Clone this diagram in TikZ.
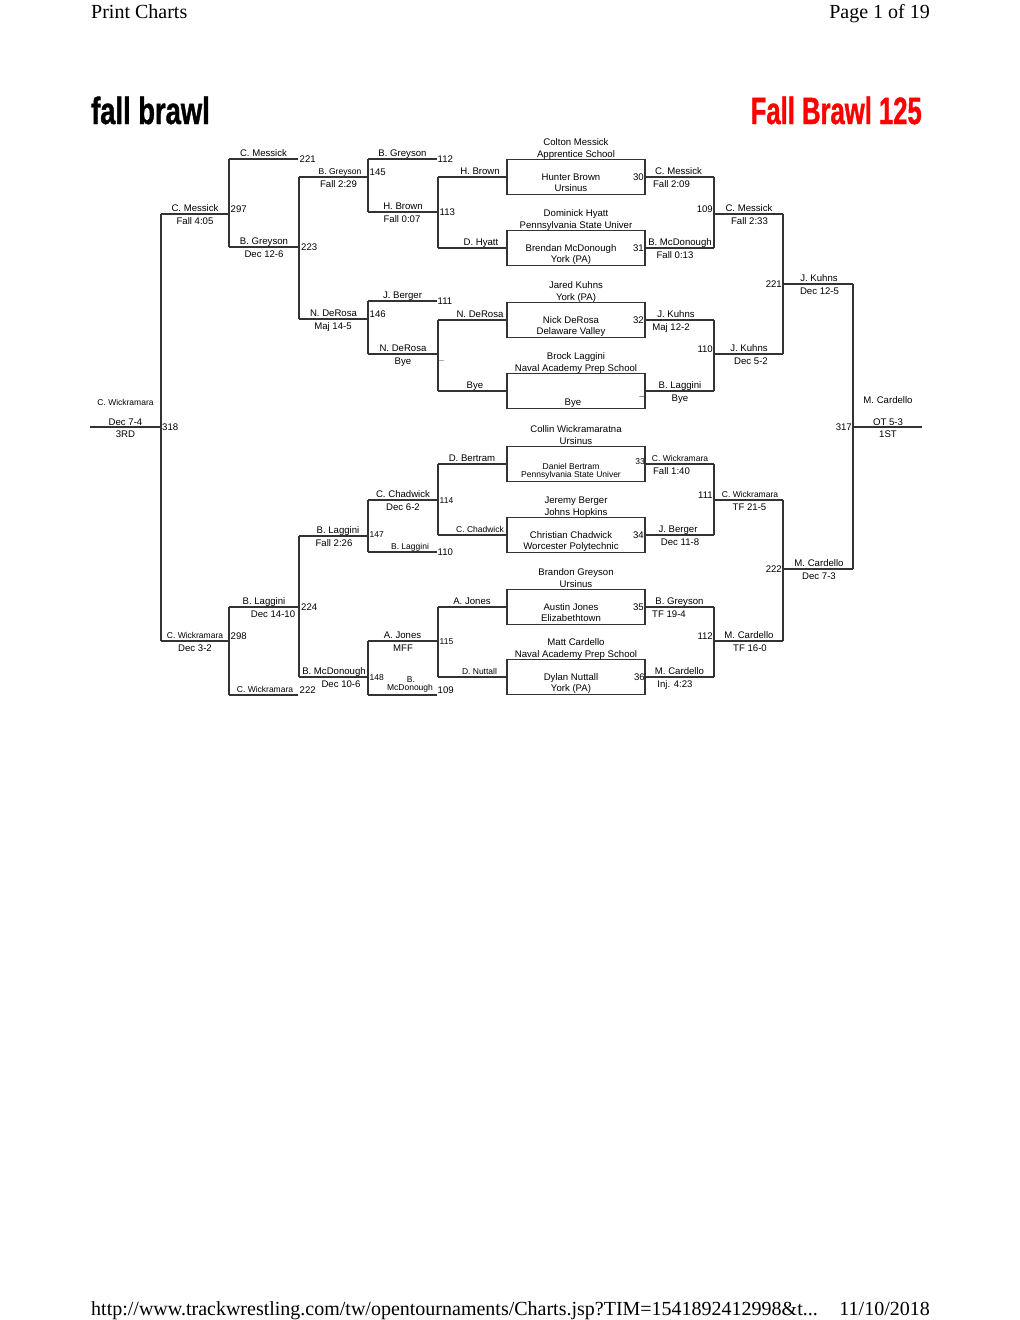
\documentclass[tikz,border=0pt]{standalone}
\usepackage{fontspec}
\setmainfont{Liberation Sans}
\newfontfamily\pagefont{Liberation Serif}
\newfontfamily\brawlfont[FakeStretch=0.72,FakeBold=1]{Liberation Sans}
\newfontfamily\brawlnarrow[FakeStretch=0.675,FakeBold=1]{Liberation Sans}
\usetikzlibrary{positioning}

\begin{document}
\begin{tikzpicture}[
    x=1pt, y=-1pt,
    wname/.style={font=\fontsize{9.6}{11}\selectfont, anchor=base, inner sep=0pt},
    wsmall/.style={wname, font=\fontsize{8.5}{10}\selectfont},
    bout/.style={wname, anchor=base west},
    boutl/.style={wname, anchor=base east},
    seedbox/.style={draw=black!80, line width=1.1pt, minimum width=138pt, minimum height=35pt, inner sep=0pt},
    bline/.style={draw=black!80, line width=1.1pt},
    pagetext/.style={font=\pagefont\fontsize{20}{22}\selectfont, inner sep=0pt},
    brawltitle/.style={font=\brawlfont\bfseries\fontsize{38}{40}\selectfont, inner sep=0pt}
]
\useasboundingbox (0,0) rectangle (1020,1320);

% page header and footer
\node[pagetext, anchor=base west] (hdl) at (91,18.5) {Print Charts};
\node[pagetext, anchor=base east] (hdr) at (930,18.5) {Page 1 of 19};
\node[pagetext, anchor=base west] (ftl) at (91,1315.5) {http://www.trackwrestling.com/tw/opentournaments/Charts.jsp?TIM=1541892412998\&t...};
\node[pagetext, anchor=base east] (ftr) at (930,1315.5) {11/10/2018};

% titles
\node[brawltitle, anchor=base west] (tleft) at (91,124) {fall brawl};
\node[brawltitle, font=\brawlnarrow\bfseries\fontsize{38}{40}\selectfont, anchor=base east, text=red] (tright) at (922,124) {Fall Brawl 125};

% seed boxes
\node[seedbox] (b1) at (576,177) {};
\node[seedbox] (b2) at (576,248) {};
\node[seedbox] (b3) at (576,320) {};
\node[seedbox] (b4) at (576,391) {};
\node[seedbox] (b5) at (576,464) {};
\node[seedbox] (b6) at (576,535) {};
\node[seedbox] (b7) at (576,607) {};
\node[seedbox] (b8) at (576,677) {};

\node[wname] (b1n1) at (576,145.5) {Colton Messick};
\node[wname] (b1n2) at (576,157) {Apprentice School};
\node[wname] (b1n3) at (571,180.5) {Hunter Brown};
\node[wname] (b1n4) at (571,191.5) {Ursinus};
\node[boutl] (b1s) at (644,180.5) {30};

\node[wname] (b2n1) at (576,216.5) {Dominick Hyatt};
\node[wname] (b2n2) at (576,228) {Pennsylvania State Univer};
\node[wname] (b2n3) at (571,251.5) {Brendan McDonough};
\node[wname] (b2n4) at (571,262.5) {York (PA)};
\node[boutl] (b2s) at (644,251.5) {31};

\node[wname] (b3n1) at (576,288.5) {Jared Kuhns};
\node[wname] (b3n2) at (576,300) {York (PA)};
\node[wname] (b3n3) at (571,323.5) {Nick DeRosa};
\node[wname] (b3n4) at (571,334.5) {Delaware Valley};
\node[boutl] (b3s) at (644,323.5) {32};

\node[wname] (b4n1) at (576,359.5) {Brock Laggini};
\node[wname] (b4n2) at (576,371) {Naval Academy Prep School};
\node[wname] (b4n4) at (573,405) {Bye};
\node[boutl, text=black!70] (b4s) at (645,399) {--};

\node[wname] (b5n1) at (576,432.5) {Collin Wickramaratna};
\node[wname] (b5n2) at (576,444) {Ursinus};
\node[wsmall] (b5n3) at (571,469) {Daniel Bertram};
\node[wsmall] (b5n4) at (571,477.5) {Pennsylvania State Univer};
\node[wsmall, anchor=base east] (b5s) at (645,464) {33};

\node[wname] (b6n1) at (576,503.5) {Jeremy Berger};
\node[wname] (b6n2) at (576,515) {Johns Hopkins};
\node[wname] (b6n3) at (571,538.5) {Christian Chadwick};
\node[wname] (b6n4) at (571,549.5) {Worcester Polytechnic};
\node[boutl] (b6s) at (644,538.5) {34};

\node[wname] (b7n1) at (576,575.5) {Brandon Greyson};
\node[wname] (b7n2) at (576,587) {Ursinus};
\node[wname] (b7n3) at (571,610.5) {Austin Jones};
\node[wname] (b7n4) at (571,621.5) {Elizabethtown};
\node[boutl] (b7s) at (644,610.5) {35};

\node[wname] (b8n1) at (576,645.5) {Matt Cardello};
\node[wname] (b8n2) at (576,657) {Naval Academy Prep School};
\node[wname] (b8n3) at (571,680.5) {Dylan Nuttall};
\node[wname] (b8n4) at (571,691.5) {York (PA)};
\node[boutl] (b8s) at (645,680.5) {36};

% left side, first round into the boxes
\draw[bline] (438,177) coordinate (l7a) -- (b1.west);
\node[wname] (l7t) at (480,174.5) {H. Brown};
\draw[bline] (438,248) coordinate (l8a) -- (b2.west);
\node[wname] (l8t) at (481,245.5) {D. Hyatt};
\draw[bline] (438,320) coordinate (l12a) -- (b3.west);
\node[wname] (l12t) at (480,317.5) {N. DeRosa};
\draw[bline] (438,391) coordinate (l13a) -- (b4.west);
\node[wname] (l13t) at (475,388.5) {Bye};
\draw[bline] (438,464) coordinate (l15a) -- (b5.west);
\node[wname] (l15t) at (472,461.5) {D. Bertram};
\draw[bline] (438,535) coordinate (l17a) -- (b6.west);
\node[wsmall] (l17t) at (480,532.5) {C. Chadwick};
\draw[bline] (438,607) coordinate (l26a) -- (b7.west);
\node[wname] (l26t) at (472,604.5) {A. Jones};
\draw[bline] (438,677) coordinate (l27a) -- (b8.west);
\node[wsmall] (l27t) at (479.5,674.5) {D. Nuttall};

% left side, consolation rounds
\draw[bline] (368,159) coordinate (l5a) -- (437,159) coordinate (l5b);
\node[wname] (l5t) at (402.5,156.5) {B. Greyson};
\node[bout] (l5n) at (437.5,162.5) {112};
\draw[bline] (368,212) coordinate (l6a) -- (438,212) coordinate (l6b);
\node[wname] (l6t) at (403,209.5) {H. Brown};
\node[wname] (l6u) at (402,222) {Fall 0:07};
\node[bout] (l6n) at (439.5,215.5) {113};
\draw[bline] (368,301) coordinate (l10a) -- (437,301) coordinate (l10b);
\node[wname] (l10t) at (402.5,298.5) {J. Berger};
\node[bout] (l10n) at (437.5,304.5) {111};
\draw[bline] (368,354) coordinate (l11a) -- (438,354) coordinate (l11b);
\node[wname] (l11t) at (403,351.5) {N. DeRosa};
\node[wname] (l11u) at (403,364) {Bye};
\node[bout, text=black!50] (l11n) at (438.5,363.5) {--};
\draw[bline] (368,500) coordinate (l16a) -- (438,500) coordinate (l16b);
\node[wname] (l16t) at (403,497.5) {C. Chadwick};
\node[wname] (l16u) at (403,510) {Dec 6-2};
\node[wsmall, anchor=base west] (l16n) at (439.5,503) {114};
\draw[bline] (368,552) coordinate (l18a) -- (437,552) coordinate (l18b);
\node[wsmall] (l18t) at (410,549.5) {B. Laggini};
\node[bout] (l18n) at (437.5,555.5) {110};
\draw[bline] (368,641) coordinate (l24a) -- (438,641) coordinate (l24b);
\node[wname] (l24t) at (402.5,638.5) {A. Jones};
\node[wname] (l24u) at (403,651) {MFF};
\node[wsmall, anchor=base west] (l24n) at (439.5,644.5) {115};
\draw[bline] (368,695) coordinate (l25a) -- (437,695) coordinate (l25b);
\node[wsmall] (l25t) at (411,682) {B.};
\node[wsmall] (l25s) at (410,690.5) {McDonough};
\node[bout] (l25n) at (437.5,693.3) {109};

\draw[bline] (299,177) coordinate (l4a) -- (368,177) coordinate (l4b);
\node[wsmall] (l4t) at (340,174.5) {B. Greyson};
\node[wname] (l4u) at (338.5,187) {Fall 2:29};
\node[bout] (l4n) at (369.5,175) {145};
\draw[bline] (299,319) coordinate (l9a) -- (368,319) coordinate (l9b);
\node[wname] (l9t) at (333.5,316.5) {N. DeRosa};
\node[wname] (l9u) at (333,329) {Maj 14-5};
\node[bout] (l9n) at (369.5,317) {146};
\draw[bline] (299,536) coordinate (l19a) -- (368,536) coordinate (l19b);
\node[wname] (l19t) at (338,533.5) {B. Laggini};
\node[wname] (l19u) at (334,546) {Fall 2:26};
\node[wsmall, anchor=base west] (l19n) at (369.5,537) {147};
\draw[bline] (299,677) coordinate (l23a) -- (368,677) coordinate (l23b);
\node[wname] (l23t) at (334,674.5) {B. McDonough};
\node[wname] (l23u) at (341,687) {Dec 10-6};
\node[wsmall, anchor=base west] (l23n) at (369.5,680) {148};

\draw[bline] (229,159) coordinate (l1a) -- (298,159) coordinate (l1b);
\node[wname] (l1t) at (263.5,156.5) {C. Messick};
\node[bout] (l1n) at (299.5,162.5) {221};
\draw[bline] (229,247) coordinate (l2a) -- (299,247) coordinate (l2b);
\node[wname] (l2t) at (264,244.5) {B. Greyson};
\node[wname] (l2u) at (264,257) {Dec 12-6};
\node[bout] (l2n) at (301,250.5) {223};
\draw[bline] (229,607) coordinate (l20a) -- (299,607) coordinate (l20b);
\node[wname] (l20t) at (264,604.5) {B. Laggini};
\node[wname] (l20u) at (273,617) {Dec 14-10};
\node[bout] (l20n) at (301,610.5) {224};
\draw[bline] (229,695) coordinate (l22a) -- (298,695) coordinate (l22b);
\node[wsmall] (l22t) at (265,692.5) {C. Wickramara};
\node[bout] (l22n) at (299.5,693.3) {222};

\draw[bline] (161,214) coordinate (l3a) -- (229,214) coordinate (l3b);
\node[wname] (l3t) at (195,211.5) {C. Messick};
\node[wname] (l3u) at (195,224) {Fall 4:05};
\node[bout] (l3n) at (230.5,212) {297};
\draw[bline] (161,641) coordinate (l21a) -- (229,641) coordinate (l21b);
\node[wsmall] (l21t) at (195,638.5) {C. Wickramara};
\node[wname] (l21u) at (195,651) {Dec 3-2};
\node[bout] (l21n) at (230.5,639) {298};

\draw[bline] (90,427) coordinate (l14a) -- (161,427) coordinate (l14b);
\node[wsmall] (l14w) at (125.5,405) {C. Wickramara};
\node[wname] (l14t) at (125.5,425) {Dec 7-4};
\node[wname] (l14u) at (125.5,437) {3RD};
\node[bout] (l14n) at (162,430.5) {318};

\draw[bline] (l1a) -- (l2a);
\draw[bline] (l3a) -- (l21a);
\draw[bline] (l4a) -- (l9a);
\draw[bline] (l5a) -- (l6a);
\draw[bline] (l7a) -- (l8a);
\draw[bline] (l10a) -- (l11a);
\draw[bline] (l12a) -- (l13a);
\draw[bline] (l15a) -- (l17a);
\draw[bline] (l16a) -- (l18a);
\draw[bline] (l19a) -- (l23a);
\draw[bline] (l20a) -- (l22a);
\draw[bline] (l26a) -- (l27a);
\draw[bline] (l24a) -- (l25a);

% right side, championship rounds
\draw[bline] (b1.east) -- (714,177) coordinate (r1b);
\node[wname] (r1t) at (678.5,174.5) {C. Messick};
\node[wname] (r1u) at (671.5,187) {Fall 2:09};
\draw[bline] (b2.east) -- (714,248) coordinate (r2b);
\node[wname] (r2t) at (680,245.5) {B. McDonough};
\node[wname] (r2u) at (675,258) {Fall 0:13};
\draw[bline] (b3.east) -- (714,320) coordinate (r4b);
\node[wname] (r4t) at (676,317.5) {J. Kuhns};
\node[wname] (r4u) at (671,330) {Maj 12-2};
\draw[bline] (b4.east) -- (714,391) coordinate (r5b);
\node[wname] (r5t) at (680,388.5) {B. Laggini};
\node[wname] (r5u) at (680,401) {Bye};
\draw[bline] (b5.east) -- (714,464) coordinate (r8b);
\node[wsmall] (r8t) at (680,461.5) {C. Wickramara};
\node[wname] (r8u) at (671.5,474) {Fall 1:40};
\draw[bline] (b6.east) -- (714,535) coordinate (r9b);
\node[wname] (r9t) at (678,532.5) {J. Berger};
\node[wname] (r9u) at (680,545) {Dec 11-8};
\draw[bline] (b7.east) -- (714,607) coordinate (r11b);
\node[wname] (r11t) at (679.5,604.5) {B. Greyson};
\node[wname] (r11u) at (669,617) {TF 19-4};
\draw[bline] (b8.east) -- (714,677) coordinate (r12b);
\node[wname] (r12t) at (679.5,674.5) {M. Cardello};
\node[wname] (r12u) at (675,687) {Inj. 4:23};

\draw[bline] (714,214) coordinate (r3a) -- (783,214) coordinate (r3b);
\node[wname] (r3t) at (749,211.5) {C. Messick};
\node[wname] (r3u) at (749.5,224) {Fall 2:33};
\node[boutl] (r3n) at (713,212) {109};
\draw[bline] (714,354) coordinate (r6a) -- (783,354) coordinate (r6b);
\node[wname] (r6t) at (749,351.5) {J. Kuhns};
\node[wname] (r6u) at (751,364) {Dec 5-2};
\node[boutl] (r6n) at (713,352) {110};
\draw[bline] (714,500) coordinate (r10a) -- (783,500) coordinate (r10b);
\node[wsmall] (r10t) at (750,497.5) {C. Wickramara};
\node[wname] (r10u) at (749.5,510) {TF 21-5};
\node[boutl] (r10n) at (713,498) {111};
\draw[bline] (714,641) coordinate (r13a) -- (783,641) coordinate (r13b);
\node[wname] (r13t) at (749,638.5) {M. Cardello};
\node[wname] (r13u) at (750,651) {TF 16-0};
\node[boutl] (r13n) at (713,639) {112};

\draw[bline] (783,284) coordinate (r7a) -- (853,284) coordinate (r7b);
\node[wname] (r7t) at (819,281.5) {J. Kuhns};
\node[wname] (r7u) at (819.5,294) {Dec 12-5};
\node[boutl] (r7n) at (782,287.5) {221};
\draw[bline] (783,569) coordinate (r14a) -- (853,569) coordinate (r14b);
\node[wname] (r14t) at (819,566.5) {M. Cardello};
\node[wname] (r14u) at (819,579) {Dec 7-3};
\node[boutl] (r14n) at (782,572.5) {222};

\draw[bline] (853,427) coordinate (r15a) -- (922,427) coordinate (r15b);
\node[wname] (r15w) at (888,403.3) {M. Cardello};
\node[wname] (r15t) at (888,425) {OT 5-3};
\node[wname] (r15u) at (888,437) {1ST};
\node[boutl] (r15n) at (852,430.5) {317};

\draw[bline] (r1b) -- (r2b);
\draw[bline] (r4b) -- (r5b);
\draw[bline] (r8b) -- (r9b);
\draw[bline] (r11b) -- (r12b);
\draw[bline] (r3b) -- (r6b);
\draw[bline] (r10b) -- (r13b);
\draw[bline] (r7b) -- (r14b);
\end{tikzpicture}
\end{document}
